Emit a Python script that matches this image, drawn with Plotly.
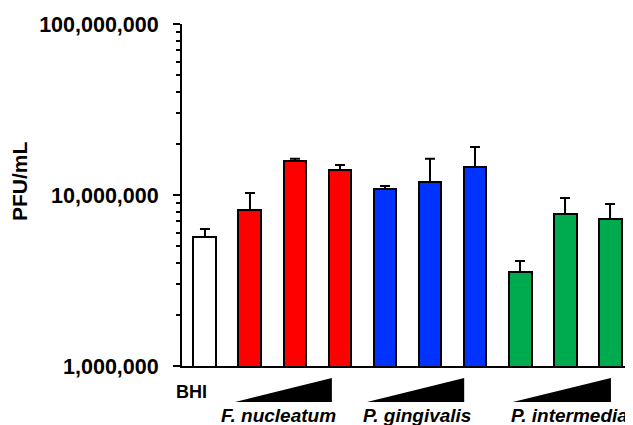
import plotly.graph_objects as go

# ---- data ----
categories = ["BHI", "Fn1", "Fn2", "Fn3", "Pg1", "Pg2", "Pg3", "Pi1", "Pi2", "Pi3"]
pfu_mean = [5.68e6, 8.17e6, 1.58e7, 1.40e7, 1.085e7, 1.19e7, 1.46e7, 3.55e6, 7.74e6, 7.24e6]
pfu_upper = [6.33e6, 1.028e7, 1.63e7, 1.50e7, 1.13e7, 1.63e7, 1.91e7, 4.11e6, 9.59e6, 8.85e6]
bar_colors = ["#FFFFFF", "#FF0000", "#FF0000", "#FF0000",
              "#0033FF", "#0033FF", "#0033FF",
              "#00AA4F", "#00AA4F", "#00AA4F"]
group_names = ["F. nucleatum", "P. gingivalis", "P. intermedia"]
y_tickvals = [1e6, 1e7, 1e8]
y_ticktext = ["1,000,000", "10,000,000", "100,000,000"]

FONT = "Liberation Sans, Arial, Helvetica, sans-serif"

x = list(range(len(categories)))
err_plus = [u - m for u, m in zip(pfu_upper, pfu_mean)]

fig = go.Figure()
fig.add_trace(go.Bar(
    x=x, y=pfu_mean, width=0.51,
    marker=dict(color=bar_colors, line=dict(color="black", width=2)),
    error_y=dict(type="data", symmetric=False, array=err_plus,
                 arrayminus=[0] * len(x), color="black", thickness=2, width=5),
    showlegend=False,
))

# page body has an 8px margin, so the figure is 8px smaller than the window
fig.update_layout(
    width=625, height=417,
    margin=dict(l=174, r=0, t=16, b=59, autoexpand=False),
    paper_bgcolor="white", plot_bgcolor="white",
    font=dict(family=FONT, color="black"),
    bargap=0,
)

fig.update_xaxes(
    range=[-0.51, 9.51], showgrid=False, zeroline=False,
    showline=True, linecolor="black", linewidth=1.5,
    showticklabels=False, ticks="",
)
fig.update_yaxes(
    type="log", range=[6, 8], showgrid=False, zeroline=False,
    showline=True, linecolor="black", linewidth=2,
    ticks="outside", ticklen=7, tickwidth=2, tickcolor="black",
    tickvals=y_tickvals, ticktext=y_ticktext,
    tickfont=dict(family=FONT, size=21.5, color="black", weight="bold"),
    ticklabelstandoff=10,
    minor=dict(ticks="outside", ticklen=4, tickwidth=1.5, tickcolor="black",
               dtick="D1", showgrid=False),
)

# y title
fig.add_annotation(text="<b>PFU/mL</b>", xref="paper", yref="paper",
                   x=-0.36, y=0.54, xanchor="center", yanchor="middle",
                   textangle=-90, showarrow=False,
                   font=dict(family=FONT, size=21, color="black"))

# BHI label
fig.add_annotation(text="<b>BHI</b>", xref="x", yref="paper",
                   x=-0.31, y=-0.075, xanchor="center", yanchor="middle",
                   showarrow=False, font=dict(family=FONT, size=18, color="black"))

# group triangles and labels
tri_x = [(0.67, 2.82), (3.6, 5.76), (6.84, 9.02)]
label_x = [1.64, 4.7, 8.11]
for (x0, x1), lx, name in zip(tri_x, label_x, group_names):
    fig.add_shape(type="path", xref="x", yref="paper",
                  path=f"M {x0},-0.105 L {x1},-0.105 L {x1},-0.035 Z",
                  fillcolor="black", line=dict(color="black", width=0))
    fig.add_annotation(text=f"<b><i>{name}</i></b>", xref="x", yref="paper",
                       x=lx, y=-0.108, xanchor="center", yanchor="top",
                       showarrow=False, font=dict(family=FONT, size=19, color="black"))

fig.write_html("out.html")
